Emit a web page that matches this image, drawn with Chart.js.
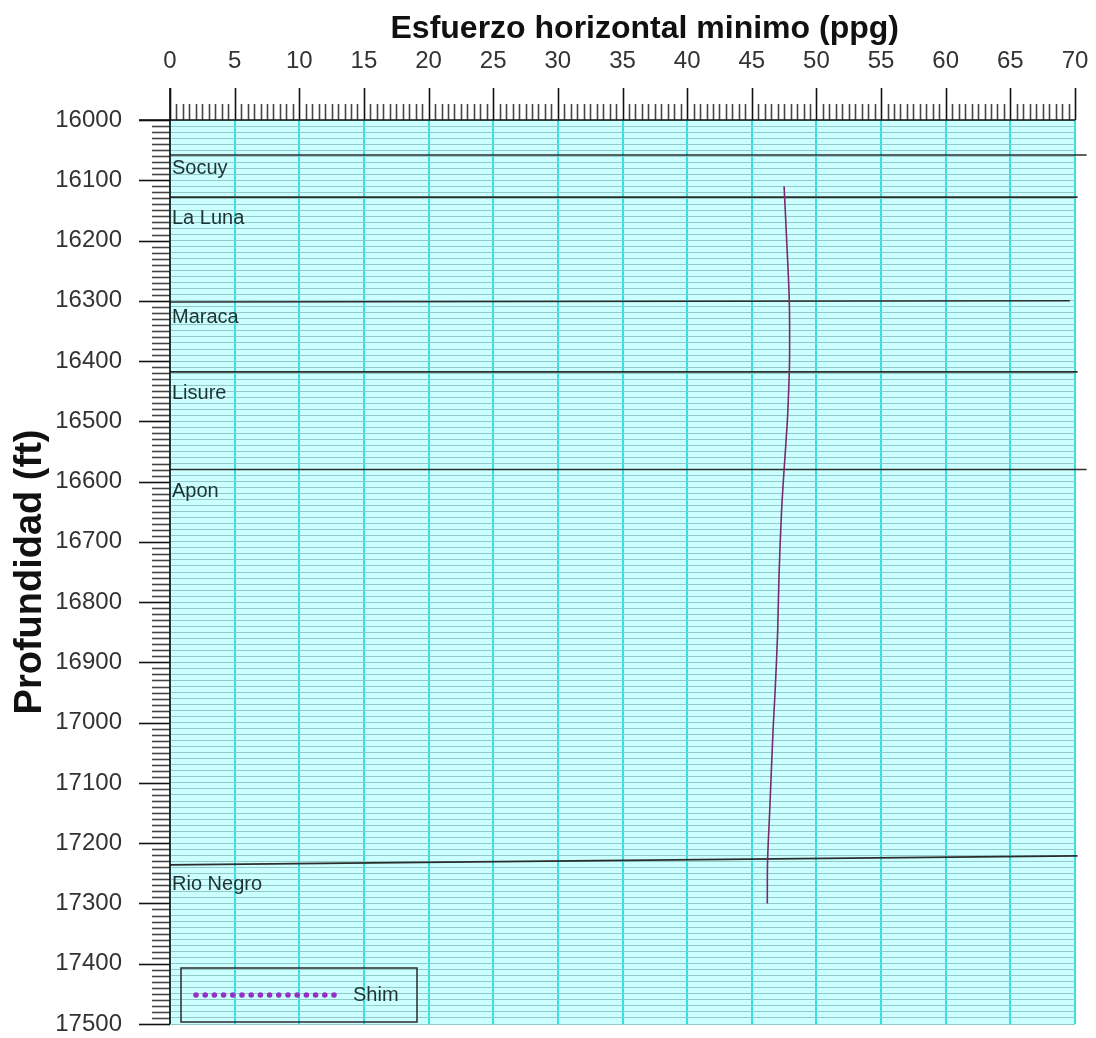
<!DOCTYPE html>
<html lang="es">
<head>
<meta charset="UTF-8">
<title>Esfuerzo horizontal minimo</title>
<script src="https://cdn.jsdelivr.net/npm/chart.js"></script>
<style>
  body { margin: 0; background: #fff; }
</style>
</head>
<body>
<canvas id="grafico" width="1096" height="1038"></canvas>
<script>
// curva Shim (profundidad en ft, esfuerzo en ppg)
const profundidades = [16110, 16200, 16300, 16400, 16450, 16500, 16580, 16650, 16760, 16850, 16950, 17010, 17140, 17230, 17300];
const esfuerzoShim = [47.5, 47.7, 47.9, 47.92, 47.85, 47.75, 47.5, 47.3, 47.1, 47.0, 46.8, 46.65, 46.4, 46.22, 46.2];

// topes de formaciones
const formaciones = ['Socuy', 'La Luna', 'Maraca', 'Lisure', 'Apon', 'Rio Negro'];
const topeIzq = [16058, 16128, 16302, 16418, 16580, 17236];
const topeDer = [16058, 16128, 16300, 16418, 16580, 17221];
const finDer = [70.9, 70.2, 69.6, 70.2, 70.9, 70.2];
const etiquetaProf = [16080, 16164, 16327, 16453, 16616, 17268];

// ticks
const ticksEsfuerzo = [0, 5, 10, 15, 20, 25, 30, 35, 40, 45, 50, 55, 60, 65, 70];
const ticksProf = [16000, 16100, 16200, 16300, 16400, 16500, 16600, 16700, 16800, 16900, 17000, 17100, 17200, 17300, 17400, 17500];

const fuente = "'Liberation Sans', Arial, sans-serif";

const datasets = [{
    label: 'Shim',
    data: profundidades.map((p, i) => ({ x: esfuerzoShim[i], y: p })),
    showLine: true,
    borderColor: '#7a2a70',
    borderWidth: 1.6,
    pointRadius: 0,
    tension: 0.3
}];
formaciones.forEach((f, i) => {
    datasets.push({
        label: f,
        data: [{ x: 0, y: topeIzq[i] }, { x: finDer[i], y: topeDer[i] }],
        showLine: true,
        borderColor: '#2c2c2c',
        borderWidth: 1.6,
        pointRadius: 0,
        clip: false
    });
});

function sinPadding(s) {
    s.paddingLeft = 0;
    s.paddingRight = 0;
    s.paddingTop = 0;
    s.paddingBottom = 0;
}

// fondo, reglas, etiquetas de formaciones y leyenda
const decorado = {
    id: 'decorado',
    beforeDraw(chart) {
        const { ctx, chartArea: a } = chart;
        ctx.save();
        ctx.fillStyle = '#ccffff';
        ctx.fillRect(a.left, a.top, a.right - a.left, a.bottom - a.top);
        ctx.restore();
    },
    afterDraw(chart) {
        const { ctx, chartArea: a } = chart;
        const sx = chart.scales.x, sy = chart.scales.y;
        ctx.save();

        // regla superior
        ctx.lineWidth = 1.6;
        for (let v = 0; v <= 70; v += 0.5) {
            const px = Math.round(sx.getPixelForValue(v)) + 0.5;
            const mayor = ticksEsfuerzo.includes(v);
            ctx.strokeStyle = mayor ? '#111' : '#444';
            ctx.beginPath();
            ctx.moveTo(px, a.top);
            ctx.lineTo(px, mayor ? a.top - 32 : a.top - 16);
            ctx.stroke();
        }
        // regla izquierda
        for (let p = 16000; p <= 17500; p += 10) {
            const py = Math.round(sy.getPixelForValue(p)) + 0.5;
            const mayor = ticksProf.includes(p);
            ctx.strokeStyle = mayor ? '#111' : '#444';
            ctx.beginPath();
            ctx.moveTo(a.left, py);
            ctx.lineTo(mayor ? a.left - 31 : a.left - 18, py);
            ctx.stroke();
        }
        // ejes
        ctx.strokeStyle = '#111';
        ctx.beginPath();
        ctx.moveTo(a.left - 31, a.top);
        ctx.lineTo(a.right, a.top);
        ctx.moveTo(a.left, a.top - 32);
        ctx.lineTo(a.left, a.bottom);
        ctx.stroke();

        // nombres de formaciones
        ctx.fillStyle = '#1f3333';
        ctx.font = '20px ' + fuente;
        ctx.textAlign = 'left';
        ctx.textBaseline = 'middle';
        formaciones.forEach((f, i) => {
            ctx.fillText(f, a.left + 2, sy.getPixelForValue(etiquetaProf[i]));
        });

        // leyenda
        const lx = a.left + 11, ly = a.bottom - 56, lw = 236, lh = 54;
        ctx.strokeStyle = '#2c2c2c';
        ctx.lineWidth = 1.5;
        ctx.strokeRect(lx, ly, lw, lh);
        ctx.fillStyle = '#9430c4';
        for (let k = 0; k < 16; k++) {
            ctx.beginPath();
            ctx.arc(lx + 15 + k * 9.2, ly + 27, 2.8, 0, Math.PI * 2);
            ctx.fill();
        }
        ctx.fillStyle = '#1f3333';
        ctx.fillText(chart.data.datasets[0].label, lx + 172, ly + 27);
        ctx.restore();
    }
};

new Chart(document.getElementById('grafico'), {
    type: 'scatter',
    data: { datasets },
    options: {
        responsive: false,
        animation: false,
        layout: { padding: { left: 0, top: 0, right: 21, bottom: 14 } },
        plugins: { legend: { display: false }, tooltip: { enabled: false } },
        scales: {
            x: {
                type: 'linear',
                position: 'top',
                min: 0,
                max: 70,
                afterBuildTicks: s => { s.ticks = ticksEsfuerzo.map(v => ({ value: v })); },
                afterFit: s => { s.height = 120; sinPadding(s); },
                ticks: {
                    autoSkip: false,
                    maxRotation: 0,
                    padding: 47,
                    color: '#333',
                    font: { family: fuente, size: 24, lineHeight: 1 }
                },
                grid: { color: '#33e2e2', lineWidth: 2, drawTicks: false },
                border: { display: false },
                title: {
                    display: true,
                    text: '     Esfuerzo horizontal minimo (ppg)',
                    color: '#111',
                    padding: { top: 10, bottom: 0 },
                    font: { family: fuente, size: 32, weight: 'bold' }
                }
            },
            y: {
                type: 'linear',
                position: 'left',
                reverse: true,
                min: 16000,
                max: 17500,
                z: -1,
                afterFit: s => { s.width = 170; sinPadding(s); },
                ticks: {
                    stepSize: 10,
                    autoSkip: false,
                    padding: 48,
                    color: '#333',
                    font: { family: fuente, size: 24, lineHeight: 1 },
                    callback: v => ticksProf.includes(v) ? String(v) : ''
                },
                grid: { color: '#93c9c9', lineWidth: 1, drawTicks: false },
                border: { display: false },
                title: {
                    display: true,
                    text: 'Profundidad (ft)',
                    color: '#111',
                    padding: { top: 8, bottom: 0 },
                    font: { family: fuente, size: 38, weight: 'bold' }
                }
            }
        }
    },
    plugins: [decorado]
});
</script>
</body>
</html>
